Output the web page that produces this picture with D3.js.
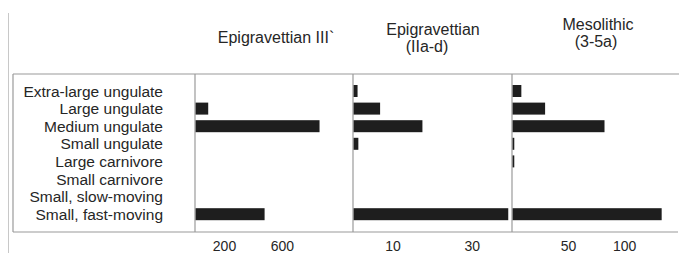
<!DOCTYPE html>
<html>
<head>
<meta charset="utf-8">
<script src="https://cdn.jsdelivr.net/npm/d3@7"></script>
<style>
  body { margin: 0; background: #fff; }
  text { font-family: "Liberation Sans", Arial, sans-serif; fill: #262626; }
</style>
</head>
<body>
<div id="chart"></div>
<script>
// Data
var categories = ["Extra-large ungulate", "Large ungulate", "Medium ungulate", "Small ungulate",
  "Large carnivore", "Small carnivore", "Small, slow-moving", "Small, fast-moving"];

var epiIII = [0, 87, 855, 0, 0, 0, 0, 476];
var epiIIad = [1, 6.7, 17.4, 1.2, 0, 0, 0, 39.1];
var meso = [7.8, 29, 82, 1.5, 1.5, 0, 0, 133];

var titles = [["Epigravettian III`"], ["Epigravettian", "(IIa-d)"], ["Mesolithic", "(3-5a)"]];
var ticksIII = [200, 600];
var ticksIIad = [10, 30];
var ticksMeso = [50, 100];

const width = 679, height = 253;
const boxLeft = 13, boxTop = 74, boxBottom = 232;

const svg = d3.select("#chart")
  .append("svg")
  .attr("width", width)
  .attr("height", height);

// panels: x range, max value of the axis
var panels = [
  { values: epiIII, ticks: ticksIII, x0: 195, x1: 353, max: 1090, title: titles[0], tx: [276], ty: 43 },
  { values: epiIIad, ticks: ticksIIad, x0: 353, x1: 512, max: 40.2, title: titles[1], tx: [433, 427], ty: 35 },
  { values: meso, ticks: ticksMeso, x0: 512, x1: 679, max: 149, title: titles[2], tx: [598, 596], ty: 30 },
];

const yScale = d3.scalePoint()
  .domain(categories)
  .range([91, 214.2]);

const barH = 12;
const lineColor = "#9a9a9a";

// faint page line at far left
svg.append("line")
  .attr("x1", 8.5).attr("x2", 8.5)
  .attr("y1", 13).attr("y2", height)
  .attr("stroke", "#c8c8c8")
  .attr("stroke-width", 1);

// box lines
svg.append("line")
  .attr("x1", boxLeft).attr("x2", width)
  .attr("y1", boxTop).attr("y2", boxTop)
  .attr("stroke", lineColor).attr("stroke-width", 1.2);
svg.append("line")
  .attr("x1", boxLeft).attr("x2", 678)
  .attr("y1", boxBottom).attr("y2", boxBottom)
  .attr("stroke", lineColor).attr("stroke-width", 1.2);
svg.append("line")
  .attr("x1", boxLeft).attr("x2", boxLeft)
  .attr("y1", boxTop).attr("y2", boxBottom)
  .attr("stroke", lineColor).attr("stroke-width", 1.2);

// category labels
svg.selectAll(".cat")
  .data(categories)
  .enter()
  .append("text")
  .attr("class", "cat")
  .attr("x", 163)
  .attr("y", function (d) { return yScale(d); })
  .attr("dy", "0.36em")
  .attr("text-anchor", "end")
  .style("font-size", "15.5px")
  .text(function (d) { return d; });

panels.forEach(function (p) {
  const xScale = d3.scaleLinear()
    .domain([0, p.max])
    .range([p.x0, p.x1]);

  // divider
  svg.append("line")
    .attr("x1", p.x0).attr("x2", p.x0)
    .attr("y1", boxTop).attr("y2", boxBottom)
    .attr("stroke", lineColor).attr("stroke-width", 1.2);

  // bars
  svg.append("g")
    .selectAll("rect")
    .data(p.values.map(function (v, i) { return [categories[i], v]; }).filter(function (d) { return d[1] > 0; }))
    .enter()
    .append("rect")
    .attr("x", xScale(0) + 0.6)
    .attr("y", function (d) { return yScale(d[0]) - barH / 2; })
    .attr("width", function (d) { return Math.max(1.5, xScale(d[1]) - xScale(0)); })
    .attr("height", barH)
    .attr("fill", "#1e1e1e");

  // tick labels, no tick marks
  const axis = svg.append("g")
    .attr("transform", `translate(0,${boxBottom + 9})`)
    .call(d3.axisBottom(xScale).tickValues(p.ticks).tickSize(0).tickPadding(0));
  axis.select(".domain").remove();
  axis.selectAll("text")
    .style("font-size", "14px")
    .style("font-family", "Liberation Sans, Arial, sans-serif")
    .attr("fill", "#262626");

  // title
  svg.append("text")
    .attr("y", p.ty)
    .attr("text-anchor", "middle")
    .style("font-size", "16px")
    .selectAll("tspan")
    .data(p.title)
    .enter()
    .append("tspan")
    .attr("x", function (d, i) { return p.tx[i]; })
    .attr("dy", function (d, i) { return i == 0 ? 0 : 17; })
    .text(function (d) { return d; });
});
</script>
</body>
</html>
